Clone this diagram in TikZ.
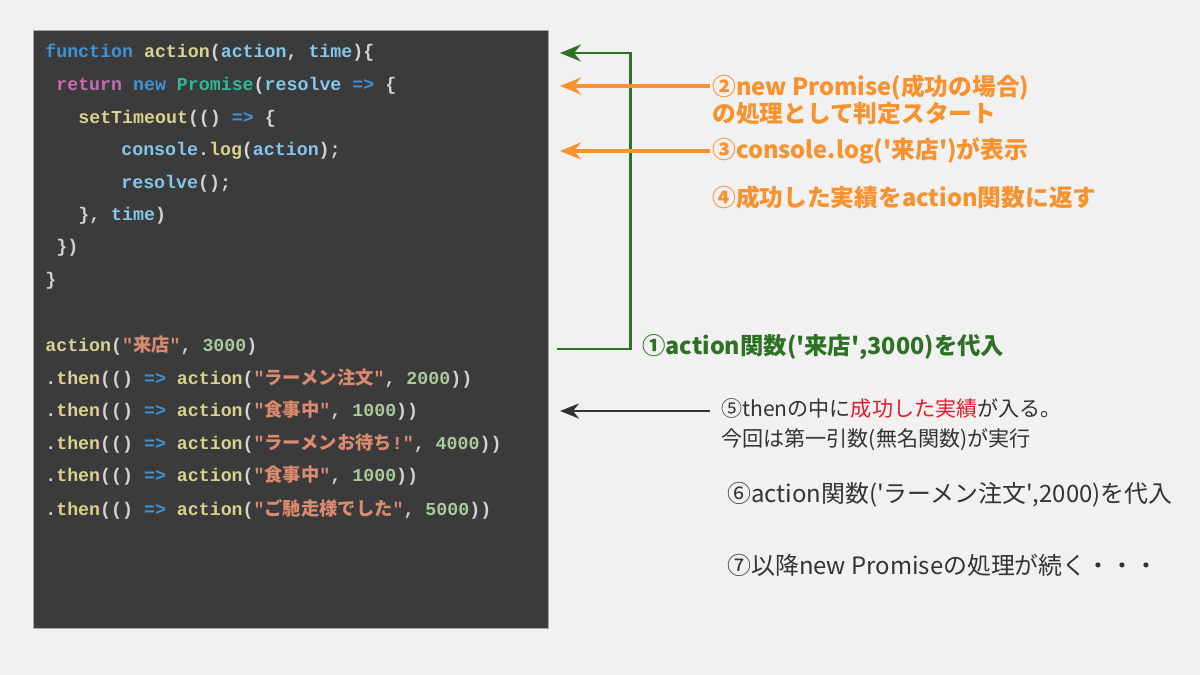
\documentclass[tikz,border=0pt]{standalone}
\usepackage{fontspec}
\usepackage{xcolor}
\usetikzlibrary{arrows.meta}

\newfontfamily\codefont{Liberation Mono}
\newfontfamily\codejp{Noto Sans CJK JP}
\newfontfamily\jpfont{Noto Sans CJK JP}

\definecolor{pagebg}{HTML}{F1F1F1}
\definecolor{codebg}{HTML}{3B3B3B}
\definecolor{ckey}{HTML}{3E93D6}
\definecolor{cfun}{HTML}{D9D28F}
\definecolor{cvar}{HTML}{86C6EA}
\definecolor{cret}{HTML}{C56CB4}
\definecolor{ccls}{HTML}{2DB996}
\definecolor{cstr}{HTML}{DA8A6E}
\definecolor{cnum}{HTML}{A8CA9C}
\definecolor{cpun}{HTML}{D2D2D2}
\definecolor{notegreen}{HTML}{2E7125}
\definecolor{noteorange}{HTML}{F7922E}
\definecolor{notedark}{HTML}{333333}
\definecolor{notered}{HTML}{E8182A}

% token colours for the code
\newcommand\tkey[1]{\textcolor{ckey}{#1}}
\newcommand\tfun[1]{\textcolor{cfun}{#1}}
\newcommand\tvar[1]{\textcolor{cvar}{#1}}
\newcommand\tret[1]{\textcolor{cret}{#1}}
\newcommand\tcls[1]{\textcolor{ccls}{#1}}
\newcommand\tnum[1]{\textcolor{cnum}{#1}}
\newcommand\tpun[1]{\textcolor{cpun}{#1}}
\newcommand\tstr[1]{\textcolor{cstr}{"{\codejp\bfseries #1}"}}
\newcommand\thenline[2]{\tpun{.}\tfun{then}\tpun{(()} \tkey{=>} \tfun{action}\tpun{(}\tstr{#1}\tpun{, }\tnum{#2}\tpun{))}}

\begin{document}
\begin{tikzpicture}[
x=0.02cm, y=-0.02cm,
codeline/.style={anchor=west, inner sep=0pt, font=\codefont\bfseries\fontsize{10.4}{12}\selectfont, text=cpun},
note/.style={anchor=west, inner sep=0pt, align=left},
orangenote/.style={note, text=noteorange, font=\jpfont\bfseries\fontsize{13.5}{15.6}\selectfont},
darknote/.style={note, text=notedark, font=\jpfont\fontsize{13.6}{15}\selectfont},
orangearrow/.style={-{Stealth[length=4.2mm, width=3.4mm, inset=1.4mm]}, line width=2pt, noteorange},
greenarrow/.style={-{Stealth[length=4.2mm, width=3.4mm, inset=1.4mm]}, line width=1.7pt, notegreen},
darkarrow/.style={-{Stealth[length=3.8mm, width=3mm, inset=1.2mm]}, line width=1.3pt, notedark}
]
\useasboundingbox[fill=pagebg] (0,0) rectangle (1200,675);
\fill[codebg] (33,30) rectangle (548,628);
\draw[gray!70, line width=0.4pt] (33,30) rectangle (548,628);

% code
\node[codeline] (l1) at (45,53) {\tkey{function} \tfun{action}(\tvar{action}, \tvar{time})\{};
\node[codeline] (l2) at (56,86) {\tret{return} \tkey{new} \tcls{Promise}(\tvar{resolve} \tkey{=>} \{};
\node[codeline] (l3) at (78,119) {\tfun{setTimeout}(() \tkey{=>} \{};
\node[codeline] (l4) at (121,151) {\tvar{console}.\tfun{log}(\tvar{action});};
\node[codeline] (l5) at (121,184) {\tvar{resolve}();};
\node[codeline] (l6) at (78,216) {\}, \tvar{time})};
\node[codeline] (l7) at (56,248) {\})};
\node[codeline] (l8) at (45,281) {\}};
\node[codeline] (l9) at (45,346) {\tfun{action}(\tstr{来店}, \tnum{3000})};
\node[codeline] (l10) at (45,379) {\thenline{ラーメン注文}{2000}};
\node[codeline] (l11) at (45,411) {\thenline{食事中}{1000}};
\node[codeline] (l12) at (45,444) {\thenline{ラーメンお待ち{\codefont\bfseries !}}{4000}};
\node[codeline] (l13) at (45,476) {\thenline{食事中}{1000}};
\node[codeline] (l14) at (45,509) {\thenline{ご馳走様でした}{5000}};

% notes
\node[note, text=notegreen, font=\jpfont\bfseries\fontsize{13.3}{15.4}\selectfont] (n1) at (642,347) {①action関数(\textquotesingle 来店\textquotesingle,3000)を代入};
\node[orangenote] (n2) at (712,100) {②new Promise(成功の場合)\\の処理として判定スタート};
\node[orangenote] (n3) at (712,151) {③console.log(\textquotesingle 来店\textquotesingle)が表示};
\node[orangenote] (n4) at (712,197) {④成功した実績をaction関数に返す};
\node[darknote, font=\jpfont\fontsize{12}{17}\selectfont] (n5) at (721,425) {⑤thenの中に\textcolor{notered}{成功した実績}が入る。\\今回は第一引数(無名関数)が実行};
\node[darknote] (n6) at (727,495) {⑥action関数(\textquotesingle ラーメン注文\textquotesingle,2000)を代入};
\node[darknote] (n7) at (727,565) {⑦以降new Promiseの処理が続く・・・};

% connectors
\coordinate (tipx) at (560,0);
\coordinate (gstart) at (557,349);
\coordinate (gcorner) at (630,53);
\coordinate (s2) at (710,86);
\coordinate (s3) at (710,151);
\coordinate (s5) at (710,411);
\draw[greenarrow] (gstart) -| (gcorner) -- (tipx |- gcorner);
\draw[orangearrow] (s2) -- (tipx |- s2);
\draw[orangearrow] (s3) -- (tipx |- s3);
\draw[darkarrow] (s5) -- (tipx |- s5);
\end{tikzpicture}
\end{document}
